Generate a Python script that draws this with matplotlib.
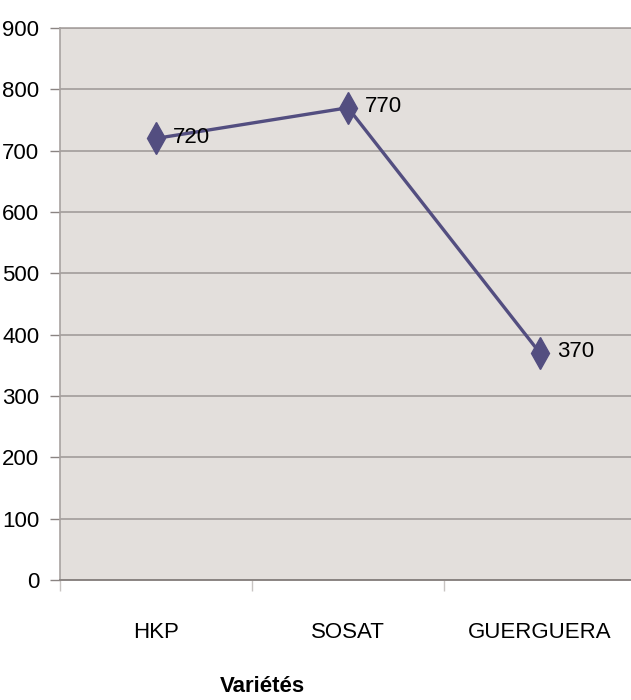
import numpy as np
import matplotlib.pyplot as plt
from matplotlib.ticker import FixedLocator

plt.rcParams['font.family'] = ['Liberation Sans', 'DejaVu Sans']

varietes = ["HKP", "SOSAT", "GUERGUERA"]
valeurs = [720, 770, 370]
yticks = [0, 100, 200, 300, 400, 500, 600, 700, 800, 900]

fig = plt.figure(figsize=(6.31, 7), dpi=100)
ax = fig.add_axes([60 / 631, 1 - 580 / 700, 576 / 631, 552 / 700])
ax.set_facecolor("#e3dfdc")

x = np.arange(len(varietes))
ax.plot(x, valeurs, color="#534e80", lw=2.4, marker="d", ms=16,
        mfc="#534e80", mec="#534e80", zorder=3)

for xi, v in zip(x, valeurs):
    ax.annotate(str(v), (xi, v), xytext=(12, 1), textcoords="offset points",
                ha="left", va="center", fontsize=16, color="black")

ax.set_xlim(-0.5, len(varietes) - 0.5)
ax.set_ylim(0, 900)
ax.set_yticks(yticks)
ax.set_yticklabels([str(t) for t in yticks], fontsize=16)
ax.yaxis.grid(True, color="#a29c9a", lw=1.2)
ax.set_axisbelow(True)

ax.set_xticks(x)
ax.set_xticklabels(varietes, fontsize=16)
ax.tick_params(axis="x", which="major", length=0, pad=30)
ax.xaxis.set_minor_locator(FixedLocator(np.arange(-0.5, len(varietes), 1.0)))
ax.tick_params(axis="x", which="minor", length=8, color="#c8c4c2", width=1)
ax.tick_params(axis="y", length=7, color="#8a8482", width=1, pad=8)

for side in ["top", "left", "right"]:
    ax.spines[side].set_color("#a8a2a0")
    ax.spines[side].set_linewidth(1.2)
ax.spines["bottom"].set_color("#8a8482")
ax.spines["bottom"].set_linewidth(1.4)

ax.set_xlabel("Variétés", fontsize=16, fontweight="bold")
ax.xaxis.set_label_coords(202 / 576, -96 / 552)

fig.savefig("out.png", dpi=100)
